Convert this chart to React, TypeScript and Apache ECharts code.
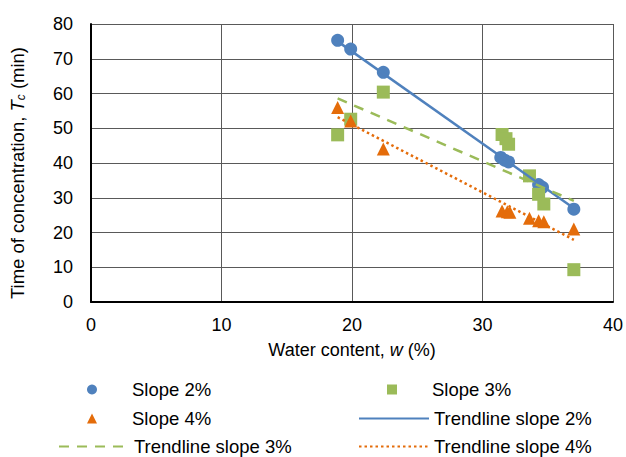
import React, { useEffect, useRef } from "react";
import * as echarts from "echarts";

const slope2X = [18.9, 19.9, 22.4, 31.4, 31.7, 32.0, 34.3, 34.6, 37.0];
const slope2Y = [75.3, 72.8, 66.1, 41.6, 40.8, 40.3, 33.8, 33.0, 26.7];
const slope3X = [18.9, 19.9, 22.4, 31.5, 31.8, 32.0, 33.6, 34.3, 34.7, 37.0];
const slope3Y = [48.1, 52.6, 60.4, 48.2, 47.0, 45.4, 36.3, 31.0, 28.2, 9.3];
const slope4X = [18.9, 19.9, 22.4, 31.5, 31.9, 32.1, 33.6, 34.3, 34.7, 37.0];
const slope4Y = [56.0, 52.1, 44.0, 26.2, 26.0, 25.8, 24.1, 23.4, 23.1, 21.0];
const trendX = [18.9, 37.0];
const trend2Y = [75.0, 27.0];
const trend3Y = [58.6, 29.1];
const trend4Y = [53.2, 17.9];
const names = [
  "Slope 2%",
  "Slope 3%",
  "Slope 4%",
  "Trendline slope 2%",
  "Trendline slope 3%",
  "Trendline slope 4%",
];

const BLUE = "#4f81bd";
const GREEN = "#9bbb59";
const ORANGE = "#e46c0a";
const COLORS = [BLUE, GREEN, ORANGE];
const FONT = "'Liberation Sans', Arial, sans-serif";

const zip = (xs: number[], ys: number[]) => xs.map((x, i) => [x, ys[i]]);

export default function App() {
  const ref = useRef<HTMLDivElement>(null);
  useEffect(() => {
    if (!ref.current) return;
    const chart = echarts.init(ref.current, undefined, { renderer: "svg" });
    const legendPos = [
      { left: 87, top: 380 },
      { left: 387, top: 380 },
      { left: 87, top: 409 },
      { left: 358, top: 409 },
      { left: 58, top: 437 },
      { left: 358, top: 437 },
    ];
    const icons = [
      "circle",
      "path://M0,0L10,0L10,10L0,10Z",
      "path://M5,0L10,10L0,10Z",
      undefined,
      undefined,
      undefined,
    ];
    const legends = names.map((n, i) => {
      const lg: any = {
        show: true,
        left: legendPos[i].left,
        top: legendPos[i].top,
        padding: 0,
        itemWidth: 70,
        itemHeight: 10,
        symbolKeepAspect: true,
        selectedMode: false,
        data: [icons[i] ? { name: n, icon: icons[i] } : { name: n }],
        textStyle: { fontSize: 18.5, lineHeight: 18, color: "#000", fontFamily: FONT },
      };
      if (i >= 3) lg.itemStyle = { opacity: 0 };
      else lg.itemStyle = { color: COLORS[i] };
      return lg;
    });
    const gridLine = { show: true, lineStyle: { color: "#595959", width: 1 } };
    chart.setOption({
      animation: false,
      backgroundColor: "#fff",
      legend: legends,
      grid: { left: 90, right: 12, top: 24, height: 278 },
      xAxis: {
        type: "value",
        min: 0,
        max: 40,
        interval: 10,
        name: "Water content, {i|w} (%)",
        nameLocation: "middle",
        nameGap: 39,
        nameTextStyle: {
          fontSize: 18,
          color: "#000",
          fontFamily: FONT,
          rich: { i: { fontSize: 18, fontStyle: "italic", fontFamily: FONT, color: "#000" } },
        },
        axisLine: { show: true, onZero: false, lineStyle: { color: "#000", width: 2 } },
        axisTick: { show: false },
        axisLabel: { fontSize: 18, color: "#000", fontFamily: FONT, margin: 14 },
        splitLine: gridLine,
      },
      yAxis: {
        type: "value",
        min: 0,
        max: 80,
        interval: 10,
        name: "Time of concentration, {i|T}{s|c} (min)",
        nameLocation: "middle",
        nameGap: 64,
        nameTextStyle: {
          fontSize: 18.5,
          color: "#000",
          fontFamily: FONT,
          padding: [0, 20, 0, 0],
          rich: {
            i: { fontSize: 18.5, fontStyle: "italic", fontFamily: FONT, color: "#000" },
            s: { fontSize: 12, fontStyle: "italic", fontFamily: FONT, color: "#000", padding: [6, 0, 0, 0] },
          },
        },
        axisLine: { show: true, onZero: false, lineStyle: { color: "#000", width: 2 } },
        axisTick: { show: false },
        axisLabel: { fontSize: 18, color: "#000", fontFamily: FONT, margin: 18 },
        splitLine: gridLine,
      },
      series: [
        {
          name: names[0],
          type: "scatter",
          data: zip(slope2X, slope2Y),
          symbol: "circle",
          symbolSize: 13,
          itemStyle: { color: BLUE, opacity: 1 },
          z: 2,
        },
        {
          name: names[1],
          type: "scatter",
          data: zip(slope3X, slope3Y),
          symbol: "rect",
          symbolSize: 13,
          itemStyle: { color: GREEN, opacity: 1 },
          z: 2,
        },
        {
          name: names[2],
          type: "scatter",
          data: zip(slope4X, slope4Y),
          symbol: "triangle",
          symbolSize: 13,
          itemStyle: { color: ORANGE, opacity: 1 },
          z: 2,
        },
        {
          name: names[3],
          type: "line",
          data: zip(trendX, trend2Y),
          showSymbol: false,
          symbol: "none",
          lineStyle: { color: BLUE, width: 2.5, type: "solid" },
          itemStyle: { color: BLUE },
          z: 3,
        },
        {
          name: names[4],
          type: "line",
          data: zip(trendX, trend3Y),
          showSymbol: false,
          symbol: "none",
          lineStyle: { color: GREEN, width: 2.5, type: [10, 8] },
          itemStyle: { color: GREEN },
          z: 3,
        },
        {
          name: names[5],
          type: "line",
          data: zip(trendX, trend4Y),
          showSymbol: false,
          symbol: "none",
          lineStyle: { color: ORANGE, width: 2.5, type: [2.5, 3] },
          itemStyle: { color: ORANGE },
          z: 3,
        },
      ],
    });
    return () => chart.dispose();
  }, []);
  return (
    <div
      ref={ref}
      style={{ position: "fixed", left: 0, top: 0, width: 626, height: 457, background: "#fff" }}
    />
  );
}
